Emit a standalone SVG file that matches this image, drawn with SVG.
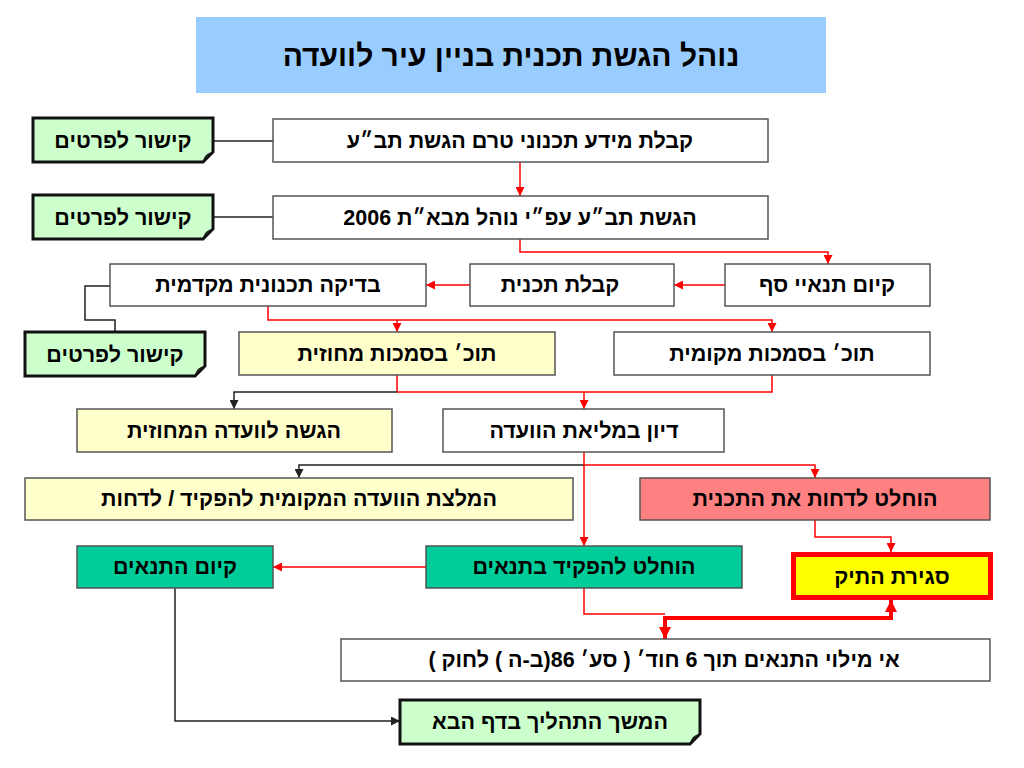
<svg xmlns="http://www.w3.org/2000/svg" width="1024" height="768" viewBox="0 0 1024 768">
<defs>
<style>
.t{font-family:"Liberation Sans","DejaVu Sans",sans-serif;font-weight:bold;font-size:21.5px;fill:#000;text-anchor:middle;direction:rtl;unicode-bidi:embed}
.ti{font-size:30px}
.box{stroke:#555;stroke-width:1.5}
.w{fill:#fff}
.y{fill:#FFFFCC}
.p{fill:#FF8080}
.g{fill:#00CC99}
.lk{fill:#CCFFCC;stroke:#111;stroke-width:3}
.fold{fill:#111}
.r{fill:none;stroke:#FF0000;stroke-width:1.5}
.k{fill:none;stroke:#222;stroke-width:1.5}
.rt{fill:none;stroke:#FF0000;stroke-width:4}
</style>
<marker id="ar" markerUnits="userSpaceOnUse" markerWidth="9" markerHeight="9" refX="9" refY="4.5" orient="auto"><path d="M0,0 L9,4.5 L0,9 z" fill="#FF0000"/></marker>
<marker id="ak" markerUnits="userSpaceOnUse" markerWidth="9" markerHeight="9" refX="9" refY="4.5" orient="auto"><path d="M0,0 L9,4.5 L0,9 z" fill="#222"/></marker>
<marker id="at" markerUnits="userSpaceOnUse" markerWidth="12" markerHeight="12" refX="12" refY="6" orient="auto-start-reverse"><path d="M0,0 L12,6 L0,12 z" fill="#FF0000"/></marker>
</defs>
<rect width="1024" height="768" fill="#fff"/>

<g id="title">
<rect x="196" y="17" width="630" height="76" fill="#99CCFF"/>
<text class="t ti" x="511" y="66">נוהל הגשת תכנית בניין עיר לוועדה</text>
</g>

<g id="connectors">
<path class="k" d="M213,141 H273"/>
<path class="k" d="M213,217 H273"/>
<path class="k" d="M110,286 H85 V320 H115 V332"/>
<path class="r" d="M520,162 V196" marker-end="url(#ar)"/>
<path class="r" d="M520,239 V252 H828 V264" marker-end="url(#ar)"/>
<path class="r" d="M725,285 H674" marker-end="url(#ar)"/>
<path class="r" d="M470,285 H426" marker-end="url(#ar)"/>
<path class="r" d="M268,306 V320 H772 V332" marker-end="url(#ar)"/>
<path class="r" d="M397,320 V332" marker-end="url(#ar)"/>
<path class="r" d="M397,375 V392 H772 V375"/>
<path class="k" d="M397,392 H234 V409" marker-end="url(#ak)"/>
<path class="r" d="M584,392 V409" marker-end="url(#ar)"/>
<path class="k" d="M584,465 H299 V478" marker-end="url(#ak)"/>
<path class="r" d="M584,452 V546" marker-end="url(#ar)"/>
<path class="r" d="M584,465 H815 V478" marker-end="url(#ar)"/>
<path class="r" d="M815,520 V537 H891 V552" marker-end="url(#ar)"/>
<path class="r" d="M426,567 H273" marker-end="url(#ar)"/>
<path class="r" d="M584,588 V614 H665"/>
<path class="rt" d="M665,639 V618 H891 V600" marker-start="url(#at)" marker-end="url(#at)"/>
<path class="k" d="M175,588 V721 H400" marker-end="url(#ak)"/>
</g>

<g id="n-link1">
<path class="lk" d="M33,118 H213 V152 L203,162 H33 Z"/>
<path class="fold" d="M213,152 Q206,155 203,162 Q204,153 213,152 Z"/>
<text class="t" x="123" y="148">קישור לפרטים</text>
</g>
<g id="n-link2">
<path class="lk" d="M33,195 H213 V229 L203,239 H33 Z"/>
<path class="fold" d="M213,229 Q206,232 203,239 Q204,230 213,229 Z"/>
<text class="t" x="123" y="225">קישור לפרטים</text>
</g>
<g id="n-link3">
<path class="lk" d="M25,332 H205 V366 L195,376 H25 Z"/>
<path class="fold" d="M205,366 Q198,369 195,376 Q196,367 205,366 Z"/>
<text class="t" x="115" y="362">קישור לפרטים</text>
</g>

<g id="n-info">
<rect class="box w" x="273" y="119" width="495" height="43"/>
<text class="t" x="520" y="148">קבלת מידע תכנוני טרם הגשת תב״ע</text>
</g>
<g id="n-submit">
<rect class="box w" x="273" y="196" width="495" height="43"/>
<text class="t" x="520" y="225">הגשת תב״ע עפ״י נוהל מבא״ת 2006</text>
</g>
<g id="n-threshold">
<rect class="box w" x="725" y="264" width="205" height="42"/>
<text class="t" x="827" y="292">קיום תנאיי סף</text>
</g>
<g id="n-receive">
<rect class="box w" x="470" y="264" width="204" height="42"/>
<text class="t" x="560" y="292">קבלת תכנית</text>
</g>
<g id="n-check">
<rect class="box w" x="110" y="264" width="316" height="42"/>
<text class="t" x="268" y="292">בדיקה תכנונית מקדמית</text>
</g>
<g id="n-district">
<rect class="box y" x="239" y="332" width="316" height="43"/>
<text class="t" x="397" y="361">תוכ׳ בסמכות מחוזית</text>
</g>
<g id="n-local">
<rect class="box w" x="614" y="332" width="316" height="43"/>
<text class="t" x="772" y="361">תוכ׳ בסמכות מקומית</text>
</g>
<g id="n-submit-district">
<rect class="box y" x="77" y="409" width="315" height="43"/>
<text class="t" x="234" y="438">הגשה לוועדה המחוזית</text>
</g>
<g id="n-plenum">
<rect class="box w" x="443" y="409" width="281" height="43"/>
<text class="t" x="584" y="438">דיון במליאת הוועדה</text>
</g>
<g id="n-recommend">
<rect class="box y" x="25" y="478" width="548" height="42"/>
<text class="t" x="299" y="506">המלצת הוועדה המקומית להפקיד / לדחות</text>
</g>
<g id="n-reject">
<rect class="box p" x="640" y="478" width="350" height="42"/>
<text class="t" x="815" y="506">הוחלט לדחות את התכנית</text>
</g>
<g id="n-conditions-met">
<rect class="box g" x="77" y="546" width="196" height="42"/>
<text class="t" x="175" y="574">קיום התנאים</text>
</g>
<g id="n-deposit">
<rect class="box g" x="426" y="546" width="316" height="42"/>
<text class="t" x="584" y="574">הוחלט להפקיד בתנאים</text>
</g>
<g id="n-close">
<rect x="793.5" y="554.5" width="197" height="43" fill="#FFFF00" stroke="#FF0000" stroke-width="5"/>
<text class="t" x="892" y="584">סגירת התיק</text>
</g>
<g id="n-unfulfilled">
<rect class="box w" x="341" y="639" width="649" height="42"/>
<text class="t" x="664" y="667">אי מילוי התנאים תוך 6 חוד׳ ( סע׳ 86(ב-ה ) לחוק )</text>
</g>
<g id="n-next">
<path class="lk" d="M400,700 H700 V734 L690,744 H400 Z"/>
<path class="fold" d="M700,734 Q693,737 690,744 Q691,735 700,734 Z"/>
<text class="t" x="550" y="729">המשך התהליך בדף הבא</text>
</g>
</svg>
